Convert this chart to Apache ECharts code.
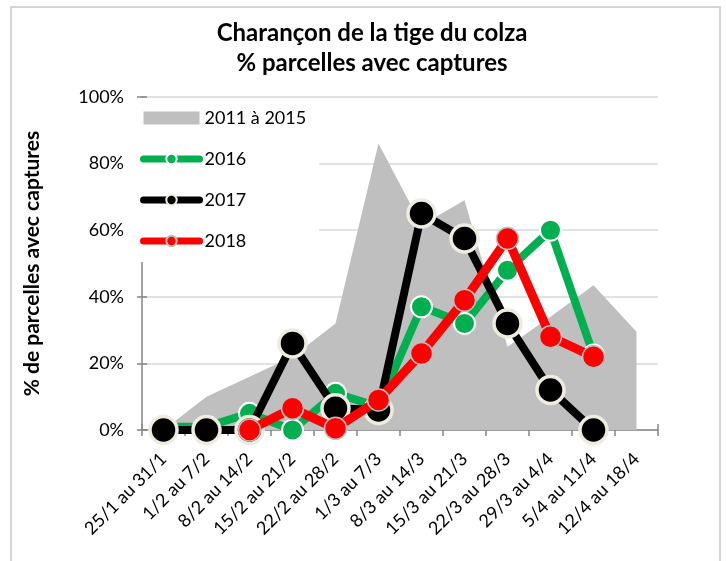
<!DOCTYPE html>
<html>
<head>
<meta charset="utf-8">
<script src="https://cdn.jsdelivr.net/npm/echarts@6/dist/echarts.min.js"></script>
<style>
  html, body { margin: 0; padding: 0; background: #fff; }
  #chart { width: 726px; height: 561px; }
</style>
</head>
<body>
<div id="chart"></div>
<script>
const CATEGORIES = [
  '25/1 au 31/1', '1/2 au 7/2', '8/2 au 14/2', '15/2 au 21/2', '22/2 au 28/2', '1/3 au 7/3',
  '8/3 au 14/3', '15/3 au 21/3', '22/3 au 28/3', '29/3 au 4/4', '5/4 au 11/4', '12/4 au 18/4'
];

// % parcelles avec captures
const REF_2011_2015 = [0, 10, 16, 22, 32, 86, 61.5, 69, 25, 34, 43.5, 29.5];
const Y2016 = [1, 1, 5, 0, 11, 7, 37, 32, 48, 60, 22.5, null];
const Y2017 = [0, 0, 0, 26, 6.5, 6, 65, 57.5, 32, 12, 0, null];
const Y2018 = [null, null, 0, 6.5, 0.5, 9, 23, 39, 57.5, 28, 22, null];

const FONT = 'Lato, "Noto Sans", sans-serif';
const AXIS_GREY = '#868686';

function lineSeries(name, data, color, opts) {
  return {
    name,
    type: 'line',
    data,
    z: opts.z,
    symbol: 'circle',
    symbolSize: opts.symbolSize,
    lineStyle: { color, width: opts.lineWidth },
    itemStyle: { color, borderColor: opts.borderColor, borderWidth: opts.borderWidth },
    emphasis: { disabled: true }
  };
}

const chart = echarts.init(document.getElementById('chart'), null, { renderer: 'canvas' });

chart.setOption({
  animation: false,
  textStyle: { fontFamily: FONT },
  graphic: [{
    type: 'rect',
    shape: { x: 11, y: 7, width: 709, height: 570 },
    style: { fill: 'none', stroke: '#c8c8c8', lineWidth: 1.5 },
    silent: true
  }],
  title: {
    text: 'Charançon de la tige du colza\n% parcelles avec captures',
    left: 367,
    top: 13,
    textAlign: 'center',
    textStyle: { fontFamily: FONT, fontSize: 24, fontWeight: 'bold', color: '#000', lineHeight: 30 }
  },
  grid: { left: 142, right: 68, top: 97, bottom: 131, containLabel: false },
  legend: {
    orient: 'vertical',
    left: 136,
    top: 98,
    padding: [10, 13, 11, 4],
    itemWidth: 56,
    itemHeight: 13,
    itemGap: 21,
    backgroundColor: '#fff',
    z: 10,
    lineStyle: { width: 7, cap: 'round' },
    textStyle: { fontFamily: FONT, fontSize: 18, color: '#000', lineHeight: 20 },
    data: [
      { name: '2011 à 2015', icon: 'rect', itemStyle: { color: '#bfbfbf', borderWidth: 0 } },
      '2016', '2017', '2018'
    ]
  },
  xAxis: [{
    type: 'category',
    data: CATEGORIES,
    boundaryGap: true,
    axisLine: { lineStyle: { color: AXIS_GREY, width: 1.5 } },
    axisTick: { show: true, length: 6, lineStyle: { color: AXIS_GREY, width: 1.5 } },
    axisLabel: {
      rotate: 45, interval: 0, margin: 26,
      fontFamily: FONT, fontSize: 18, color: '#000'
    },
    splitLine: { show: false }
  }, {
    type: 'category',
    data: CATEGORIES,
    position: 'bottom',
    boundaryGap: true,
    axisLine: { show: false },
    axisTick: { show: true, inside: true, length: 6, lineStyle: { color: AXIS_GREY, width: 1.5 } },
    axisLabel: { show: false },
    splitLine: { show: false }
  }],
  yAxis: [{
    type: 'value',
    min: 0,
    max: 100,
    interval: 20,
    name: '% de parcelles avec captures',
    nameLocation: 'middle',
    nameGap: 99,
    nameTextStyle: { fontFamily: FONT, fontSize: 21, fontWeight: 'bold', color: '#000' },
    axisLine: { show: true, lineStyle: { color: AXIS_GREY, width: 1.5 } },
    axisTick: { show: true, length: 5, lineStyle: { color: AXIS_GREY, width: 1.5 } },
    axisLabel: { formatter: '{value}%', margin: 18, fontFamily: FONT, fontSize: 18, color: '#000' },
    splitLine: { lineStyle: { color: '#d9d9d9', width: 1.5 } }
  }, {
    type: 'value',
    min: 0,
    max: 100,
    interval: 20,
    position: 'left',
    axisLine: { show: false },
    axisTick: { show: true, inside: true, length: 5, lineStyle: { color: AXIS_GREY, width: 1.5 } },
    axisLabel: { show: false },
    splitLine: { show: false }
  }],
  series: [
    {
      name: '2011 à 2015',
      type: 'line',
      data: REF_2011_2015,
      z: 1,
      showSymbol: false,
      symbol: 'none',
      lineStyle: { width: 0 },
      itemStyle: { color: '#bfbfbf' },
      areaStyle: { color: '#bfbfbf', opacity: 1 },
      emphasis: { disabled: true }
    },
    lineSeries('2016', Y2016, '#00b050', { z: 2, symbolSize: 21, lineWidth: 8, borderColor: '#fff', borderWidth: 2 }),
    lineSeries('2017', Y2017, '#000000', { z: 3, symbolSize: 27, lineWidth: 8, borderColor: '#eeece1', borderWidth: 3.5 }),
    lineSeries('2018', Y2018, '#ff0000', { z: 4, symbolSize: 22, lineWidth: 9, borderColor: '#bfbfbf', borderWidth: 1.5 })
  ]
});
</script>
</body>
</html>
